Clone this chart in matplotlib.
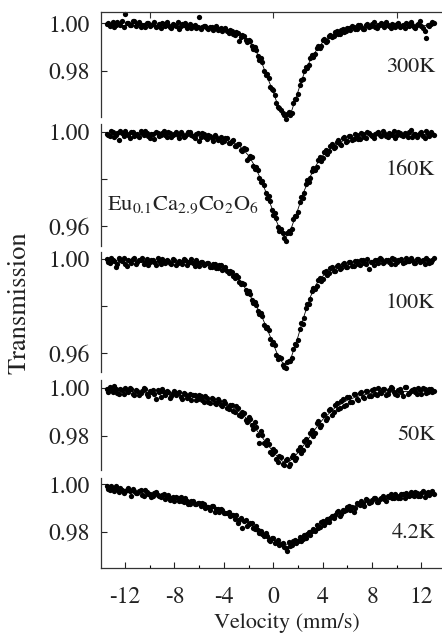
import matplotlib
matplotlib.use("Agg")
import matplotlib.pyplot as plt

plt.rcParams['font.family'] = ['STIXGeneral', 'Liberation Serif', 'DejaVu Serif']
plt.rcParams['mathtext.fontset'] = 'stix'
plt.rcParams['axes.unicode_minus'] = False

# velocity channels (mm/s), two interleaved halves of the folded spectrum
velocity_a = [
    -13.5, -13.25, -13.0, -12.75, -12.5, -12.25, -12.0, -11.75, -11.5, -11.25,
    -11.0, -10.75, -10.5, -10.25, -10.0, -9.75, -9.5, -9.25, -9.0, -8.75,
    -8.5, -8.25, -8.0, -7.75, -7.5, -7.25, -7.0, -6.75, -6.5, -6.25,
    -6.0, -5.75, -5.5, -5.25, -5.0, -4.75, -4.5, -4.25, -4.0, -3.75,
    -3.5, -3.25, -3.0, -2.75, -2.5, -2.25, -2.0, -1.75, -1.5, -1.25,
    -1.0, -0.75, -0.5, -0.25, 0.0, 0.25, 0.5, 0.75, 1.0, 1.25,
    1.5, 1.75, 2.0, 2.25, 2.5, 2.75, 3.0, 3.25, 3.5, 3.75,
    4.0, 4.25, 4.5, 4.75, 5.0, 5.25, 5.5, 5.75, 6.0, 6.25,
    6.5, 6.75, 7.0, 7.25, 7.5, 7.75, 8.0, 8.25, 8.5, 8.75,
    9.0, 9.25, 9.5, 9.75, 10.0, 10.25, 10.5, 10.75, 11.0, 11.25,
    11.5, 11.75, 12.0, 12.25, 12.5, 12.75, 13.0]
velocity_b = [
    -13.375, -13.125, -12.875, -12.625, -12.375, -12.125, -11.875, -11.625, -11.375, -11.125,
    -10.875, -10.625, -10.375, -10.125, -9.875, -9.625, -9.375, -9.125, -8.875, -8.625,
    -8.375, -8.125, -7.875, -7.625, -7.375, -7.125, -6.875, -6.625, -6.375, -6.125,
    -5.875, -5.625, -5.375, -5.125, -4.875, -4.625, -4.375, -4.125, -3.875, -3.625,
    -3.375, -3.125, -2.875, -2.625, -2.375, -2.125, -1.875, -1.625, -1.375, -1.125,
    -0.875, -0.625, -0.375, -0.125, 0.125, 0.375, 0.625, 0.875, 1.125, 1.375,
    1.625, 1.875, 2.125, 2.375, 2.625, 2.875, 3.125, 3.375, 3.625, 3.875,
    4.125, 4.375, 4.625, 4.875, 5.125, 5.375, 5.625, 5.875, 6.125, 6.375,
    6.625, 6.875, 7.125, 7.375, 7.625, 7.875, 8.125, 8.375, 8.625, 8.875,
    9.125, 9.375, 9.625, 9.875, 10.125, 10.375, 10.625, 10.875, 11.125, 11.375,
    11.625, 11.875, 12.125, 12.375, 12.625, 12.875]

# measured transmission
t300_a = [
    0.9996, 0.9989, 1.0004, 0.9993, 0.9999, 1.0008, 1.0040, 1.0002, 0.9995, 1.0011,
    0.9997, 0.9986, 0.9994, 1.0003, 0.9988, 0.9999, 0.9984, 0.9996, 1.0001, 0.9990,
    0.9993, 0.9981, 0.9995, 1.0004, 0.9987, 0.9993, 0.9982, 0.9998, 0.9989, 0.9979,
    1.0026, 0.9983, 0.9987, 0.9976, 0.9986, 0.9981, 0.9970, 0.9982, 0.9975, 0.9966,
    0.9972, 0.9957, 0.9963, 0.9925, 0.9950, 0.9928, 0.9931, 0.9903, 0.9899, 0.9861,
    0.9852, 0.9798, 0.9786, 0.9731, 0.9718, 0.9663, 0.9645, 0.9621, 0.9598, 0.9625,
    0.9622, 0.9681, 0.9704, 0.9760, 0.9798, 0.9811, 0.9852, 0.9860, 0.9895, 0.9898,
    0.9928, 0.9922, 0.9947, 0.9941, 0.9963, 0.9955, 0.9973, 0.9964, 0.9982, 0.9971,
    0.9986, 0.9975, 0.9991, 0.9978, 0.9993, 0.9983, 0.9997, 0.9985, 0.9992, 1.0002,
    0.9986, 0.9995, 0.9979, 0.9991, 0.9998, 0.9984, 0.9993, 1.0001, 0.9987, 0.9995,
    0.9982, 0.9999, 0.9989, 0.9968, 0.9991, 0.9997, 1.0003]
t300_b = [
    1.0001, 0.9993, 0.9986, 1.0007, 0.9995, 0.9984, 1.0003, 0.9991, 1.0009, 0.9987,
    1.0004, 0.9992, 0.9983, 1.0000, 0.9994, 1.0006, 0.9989, 0.9980, 0.9997, 1.0005,
    0.9986, 0.9998, 0.9990, 0.9978, 0.9996, 1.0002, 0.9988, 0.9981, 0.9994, 0.9986,
    0.9977, 0.9990, 0.9979, 0.9984, 0.9972, 0.9987, 0.9978, 0.9968, 0.9980, 0.9961,
    0.9969, 0.9950, 0.9958, 0.9941, 0.9946, 0.9922, 0.9924, 0.9892, 0.9888, 0.9847,
    0.9835, 0.9784, 0.9769, 0.9721, 0.9699, 0.9648, 0.9633, 0.9612, 0.9617, 0.9613,
    0.9662, 0.9683, 0.9741, 0.9764, 0.9814, 0.9826, 0.9866, 0.9871, 0.9903, 0.9905,
    0.9932, 0.9926, 0.9951, 0.9948, 0.9967, 0.9956, 0.9977, 0.9969, 0.9981, 0.9988,
    0.9978, 0.9994, 0.9986, 0.9976, 0.9996, 0.9989, 1.0004, 0.9982, 0.9993, 0.9999,
    1.0006, 0.9988, 0.9996, 0.9983, 1.0003, 0.9990, 0.9979, 0.9998, 1.0005, 0.9986,
    0.9994, 1.0008, 0.9981, 0.9940, 0.9989, 1.0004]
t160_a = [
    0.9994, 0.9983, 1.0001, 0.9990, 0.9968, 0.9996, 1.0004, 0.9987, 0.9999, 0.9982,
    0.9993, 1.0005, 0.9986, 0.9997, 0.9976, 0.9992, 1.0002, 0.9985, 0.9995, 0.9989,
    1.0003, 0.9981, 0.9994, 0.9987, 0.9999, 0.9979, 0.9991, 1.0001, 0.9984, 0.9993,
    0.9962, 0.9997, 0.9980, 0.9990, 0.9974, 0.9988, 0.9967, 0.9981, 0.9964, 0.9975,
    0.9952, 0.9966, 0.9940, 0.9949, 0.9918, 0.9928, 0.9889, 0.9896, 0.9843, 0.9837,
    0.9786, 0.9775, 0.9718, 0.9706, 0.9647, 0.9633, 0.9578, 0.9570, 0.9538, 0.9577,
    0.9586, 0.9645, 0.9661, 0.9724, 0.9739, 0.9795, 0.9804, 0.9849, 0.9851, 0.9894,
    0.9889, 0.9925, 0.9918, 0.9949, 0.9936, 0.9966, 0.9947, 0.9978, 0.9963, 0.9985,
    0.9970, 0.9988, 0.9973, 0.9993, 0.9976, 0.9996, 0.9982, 0.9991, 1.0002, 0.9984,
    0.9995, 0.9979, 0.9992, 1.0004, 0.9986, 0.9997, 0.9983, 0.9993, 1.0001, 0.9981,
    0.9994, 0.9988, 0.9999, 0.9977, 0.9992, 1.0003, 0.9986]
t160_b = [
    0.9987, 1.0004, 0.9979, 0.9995, 1.0006, 0.9984, 0.9992, 0.9977, 1.0003, 0.9990,
    0.9981, 0.9998, 1.0005, 0.9983, 0.9994, 0.9973, 0.9997, 0.9988, 1.0004, 0.9979,
    0.9996, 0.9986, 1.0002, 0.9975, 0.9993, 0.9983, 1.0003, 0.9989, 0.9977, 0.9996,
    0.9979, 0.9993, 0.9972, 0.9985, 0.9962, 0.9981, 0.9970, 0.9958, 0.9976, 0.9955,
    0.9962, 0.9943, 0.9951, 0.9925, 0.9931, 0.9880, 0.9900, 0.9857, 0.9853, 0.9805,
    0.9790, 0.9741, 0.9726, 0.9668, 0.9654, 0.9598, 0.9586, 0.9547, 0.9571, 0.9569,
    0.9628, 0.9641, 0.9703, 0.9719, 0.9779, 0.9788, 0.9834, 0.9838, 0.9881, 0.9879,
    0.9915, 0.9909, 0.9941, 0.9931, 0.9960, 0.9949, 0.9975, 0.9958, 0.9983, 0.9966,
    0.9991, 0.9972, 0.9996, 0.9980, 1.0003, 0.9986, 0.9975, 0.9997, 0.9988, 1.0005,
    0.9983, 0.9998, 0.9990, 0.9976, 1.0002, 0.9987, 0.9995, 0.9980, 1.0010, 0.9991,
    0.9979, 0.9996, 0.9985, 1.0004, 0.9982, 0.9993]
t100_a = [
    1.0002, 0.9984, 0.9997, 0.9968, 1.0006, 0.9991, 0.9979, 0.9998, 0.9986, 1.0004,
    0.9990, 0.9997, 0.9981, 1.0001, 0.9987, 0.9995, 0.9976, 0.9993, 1.0003, 0.9985,
    0.9992, 0.9979, 0.9998, 0.9986, 0.9990, 1.0002, 0.9977, 0.9989, 0.9984, 0.9995,
    0.9973, 0.9987, 0.9978, 0.9985, 0.9968, 0.9980, 0.9961, 0.9975, 0.9957, 0.9949,
    0.9951, 0.9929, 0.9932, 0.9903, 0.9899, 0.9868, 0.9863, 0.9826, 0.9818, 0.9781,
    0.9773, 0.9722, 0.9711, 0.9660, 0.9648, 0.9593, 0.9584, 0.9549, 0.9538, 0.9568,
    0.9580, 0.9639, 0.9657, 0.9728, 0.9749, 0.9811, 0.9832, 0.9878, 0.9886, 0.9920,
    0.9917, 0.9949, 0.9940, 0.9965, 0.9952, 0.9976, 0.9961, 0.9983, 0.9968, 0.9989,
    0.9972, 0.9992, 0.9976, 0.9995, 0.9981, 0.9960, 0.9990, 0.9998, 0.9983, 1.0001,
    0.9987, 0.9996, 0.9980, 1.0002, 0.9989, 0.9997, 0.9985, 1.0004, 0.9991, 0.9998,
    0.9986, 1.0003, 0.9993, 0.9981, 0.9999, 0.9988, 1.0005]
t100_b = [
    0.9988, 1.0005, 0.9992, 0.9978, 0.9999, 1.0007, 0.9972, 0.9994, 1.0003, 0.9980,
    0.9996, 1.0004, 0.9989, 0.9974, 0.9998, 0.9987, 1.0005, 0.9982, 0.9991, 0.9999,
    0.9984, 1.0003, 0.9975, 0.9993, 0.9981, 0.9997, 0.9988, 1.0001, 0.9972, 0.9986,
    0.9990, 0.9974, 0.9984, 0.9967, 0.9981, 0.9963, 0.9976, 0.9953, 0.9965, 0.9940,
    0.9945, 0.9922, 0.9924, 0.9893, 0.9894, 0.9857, 0.9852, 0.9813, 0.9807, 0.9766,
    0.9759, 0.9707, 0.9697, 0.9641, 0.9635, 0.9577, 0.9581, 0.9540, 0.9562, 0.9566,
    0.9618, 0.9635, 0.9705, 0.9725, 0.9792, 0.9808, 0.9866, 0.9873, 0.9912, 0.9909,
    0.9944, 0.9933, 0.9962, 0.9948, 0.9973, 0.9957, 0.9980, 0.9966, 0.9987, 0.9971,
    0.9994, 0.9979, 0.9997, 0.9983, 1.0002, 0.9988, 0.9975, 0.9996, 1.0004, 0.9985,
    0.9999, 0.9990, 1.0005, 0.9982, 0.9996, 1.0001, 0.9988, 0.9994, 1.0006, 0.9984,
    1.0002, 0.9990, 0.9997, 1.0007, 0.9985, 0.9999]
t50_a = [
    0.9996, 1.0006, 0.9985, 0.9999, 0.9978, 0.9994, 1.0003, 0.9983, 0.9997, 0.9971,
    0.9990, 0.9980, 1.0002, 0.9976, 0.9989, 0.9993, 0.9955, 0.9986, 0.9996, 0.9972,
    0.9984, 0.9966, 0.9989, 0.9979, 0.9963, 0.9980, 0.9958, 0.9977, 0.9970, 0.9952,
    0.9973, 0.9949, 0.9966, 0.9942, 0.9961, 0.9936, 0.9955, 0.9929, 0.9946, 0.9917,
    0.9931, 0.9906, 0.9925, 0.9889, 0.9902, 0.9866, 0.9878, 0.9843, 0.9856, 0.9802,
    0.9818, 0.9770, 0.9782, 0.9731, 0.9744, 0.9702, 0.9716, 0.9679, 0.9698, 0.9672,
    0.9712, 0.9699, 0.9741, 0.9727, 0.9776, 0.9761, 0.9813, 0.9798, 0.9852, 0.9836,
    0.9886, 0.9867, 0.9910, 0.9889, 0.9931, 0.9913, 0.9948, 0.9926, 0.9962, 0.9944,
    0.9974, 0.9955, 0.9981, 0.9963, 0.9989, 0.9968, 0.9993, 0.9976, 1.0001, 0.9982,
    0.9995, 0.9977, 1.0004, 0.9986, 0.9973, 0.9998, 0.9968, 1.0006, 0.9979, 0.9993,
    0.9985, 1.0002, 0.9976, 0.9995, 0.9983, 0.9999, 0.9988]
t50_b = [
    0.9983, 0.9999, 1.0008, 0.9981, 0.9995, 0.9974, 0.9991, 1.0001, 0.9978, 0.9994,
    0.9971, 0.9990, 0.9997, 0.9968, 0.9986, 0.9975, 0.9992, 0.9964, 0.9983, 0.9988,
    0.9961, 0.9982, 0.9970, 0.9985, 0.9956, 0.9975, 0.9962, 0.9950, 0.9972, 0.9955,
    0.9968, 0.9944, 0.9960, 0.9938, 0.9955, 0.9932, 0.9948, 0.9924, 0.9939, 0.9911,
    0.9928, 0.9900, 0.9916, 0.9881, 0.9894, 0.9857, 0.9869, 0.9829, 0.9838, 0.9770,
    0.9804, 0.9759, 0.9766, 0.9722, 0.9735, 0.9690, 0.9708, 0.9676, 0.9701, 0.9680,
    0.9719, 0.9707, 0.9751, 0.9739, 0.9788, 0.9772, 0.9825, 0.9810, 0.9861, 0.9845,
    0.9891, 0.9873, 0.9914, 0.9898, 0.9936, 0.9917, 0.9953, 0.9929, 0.9965, 0.9944,
    0.9978, 0.9952, 0.9984, 0.9960, 0.9990, 0.9966, 0.9997, 0.9971, 0.9986, 0.9996,
    0.9972, 0.9991, 1.0003, 0.9978, 0.9994, 0.9983, 1.0005, 0.9976, 0.9989, 0.9997,
    0.9974, 0.9992, 1.0001, 0.9980, 0.9996, 0.9984]
t4_a = [
    0.9993, 0.9977, 0.9985, 0.9992, 0.9969, 0.9978, 0.9971, 0.9983, 0.9952, 0.9974,
    0.9965, 0.9975, 0.9953, 0.9966, 0.9960, 0.9950, 0.9969, 0.9950, 0.9957, 0.9939,
    0.9954, 0.9943, 0.9930, 0.9944, 0.9947, 0.9927, 0.9932, 0.9917, 0.9931, 0.9916,
    0.9920, 0.9923, 0.9902, 0.9905, 0.9908, 0.9886, 0.9897, 0.9898, 0.9879, 0.9879,
    0.9865, 0.9873, 0.9873, 0.9852, 0.9815, 0.9849, 0.9833, 0.9839, 0.9812, 0.9810,
    0.9806, 0.9782, 0.9785, 0.9761, 0.9775, 0.9756, 0.9743, 0.9755, 0.9733, 0.9758,
    0.9746, 0.9767, 0.9761, 0.9763, 0.9787, 0.9791, 0.9787, 0.9813, 0.9828, 0.9820,
    0.9844, 0.9840, 0.9843, 0.9867, 0.9871, 0.9888, 0.9877, 0.9889, 0.9906, 0.9891,
    0.9885, 0.9923, 0.9912, 0.9921, 0.9937, 0.9920, 0.9935, 0.9941, 0.9926, 0.9944,
    0.9938, 0.9951, 0.9959, 0.9941, 0.9952, 0.9941, 0.9959, 0.9965, 0.9951, 0.9957,
    0.9967, 0.9953, 0.9964, 0.9949, 0.9969, 0.9964, 0.9960]
t4_b = [
    0.9979, 0.9993, 0.9972, 0.9981, 0.9984, 0.9963, 0.9978, 0.9971, 0.9980, 0.9962,
    0.9971, 0.9957, 0.9975, 0.9958, 0.9949, 0.9963, 0.9955, 0.9945, 0.9959, 0.9946,
    0.9934, 0.9947, 0.9949, 0.9932, 0.9932, 0.9941, 0.9919, 0.9930, 0.9917, 0.9921,
    0.9908, 0.9919, 0.9906, 0.9892, 0.9911, 0.9898, 0.9883, 0.9891, 0.9878, 0.9885,
    0.9872, 0.9855, 0.9838, 0.9860, 0.9844, 0.9824, 0.9837, 0.9817, 0.9823, 0.9796,
    0.9791, 0.9795, 0.9766, 0.9775, 0.9755, 0.9768, 0.9749, 0.9735, 0.9720, 0.9741,
    0.9762, 0.9753, 0.9780, 0.9772, 0.9774, 0.9799, 0.9805, 0.9802, 0.9818, 0.9840,
    0.9830, 0.9855, 0.9859, 0.9859, 0.9883, 0.9869, 0.9892, 0.9891, 0.9909, 0.9904,
    0.9902, 0.9918, 0.9931, 0.9911, 0.9933, 0.9928, 0.9942, 0.9928, 0.9939, 0.9953,
    0.9932, 0.9948, 0.9942, 0.9959, 0.9942, 0.9958, 0.9941, 0.9957, 0.9966, 0.9951,
    0.9964, 0.9950, 0.9972, 0.9962, 0.9955, 0.9971]

# fitted curves
fit_velocity = [-13.5, -12, -10, -8, -6, -5, -4, -3, -2.5, -2, -1.5, -1, -0.5, 0,
                0.25, 0.5, 0.75, 1, 1.25, 1.5, 2, 2.5, 3, 3.5, 4, 5, 6, 7, 8,
                10, 12, 13.0]
fit300 = [0.9992, 0.9991, 0.9990, 0.9988, 0.9984, 0.9979, 0.9972, 0.9958, 0.9945,
          0.9925, 0.9893, 0.9843, 0.9775, 0.9710, 0.9672, 0.9638, 0.9614, 0.9605,
          0.9612, 0.9633, 0.9712, 0.9790, 0.9845, 0.9887, 0.9920, 0.9958, 0.9975,
          0.9983, 0.9987, 0.9990, 0.9991, 0.9992]
fit160 = [0.9991, 0.9991, 0.9990, 0.9988, 0.9984, 0.9979, 0.9970, 0.9950, 0.9930,
          0.9900, 0.9856, 0.9798, 0.9732, 0.9660, 0.9622, 0.9590, 0.9564, 0.9555,
          0.9565, 0.9598, 0.9672, 0.9750, 0.9812, 0.9862, 0.9900, 0.9948, 0.9971,
          0.9981, 0.9986, 0.9989, 0.9990, 0.9991]
fit100 = [0.9994, 0.9993, 0.9991, 0.9988, 0.9982, 0.9975, 0.9962, 0.9925, 0.9895,
          0.9855, 0.9812, 0.9765, 0.9703, 0.9640, 0.9606, 0.9578, 0.9560, 0.9553,
          0.9562, 0.9590, 0.9670, 0.9760, 0.9840, 0.9895, 0.9928, 0.9962, 0.9977,
          0.9984, 0.9988, 0.9991, 0.9993, 0.9994]
fit50 = [0.9993, 0.9988, 0.9982, 0.9974, 0.9960, 0.9950, 0.9935, 0.9910, 0.9890,
         0.9864, 0.9833, 0.9800, 0.9765, 0.9732, 0.9716, 0.9702, 0.9692, 0.9687,
         0.9690, 0.9700, 0.9728, 0.9762, 0.9798, 0.9835, 0.9868, 0.9918, 0.9950,
         0.9969, 0.9979, 0.9986, 0.9988, 0.9989]
fit4 = [0.9985, 0.9975, 0.9960, 0.9942, 0.9917, 0.9902, 0.9884, 0.9862, 0.9849,
        0.9835, 0.9818, 0.9800, 0.9782, 0.9767, 0.9760, 0.9754, 0.9750, 0.9748,
        0.9749, 0.9752, 0.9764, 0.9780, 0.9798, 0.9816, 0.9835, 0.9870, 0.9898,
        0.9918, 0.9932, 0.9950, 0.9960, 0.9963]

temps = ['300K', '160K', '100K', '50K', '4.2K']
data_a = [t300_a, t160_a, t100_a, t50_a, t4_a]
data_b = [t300_b, t160_b, t100_b, t50_b, t4_b]
fits = [fit300, fit160, fit100, fit50, fit4]
ylims = [(0.9605, 1.0049), (0.9515, 1.0035), (0.9520, 1.0031),
         (0.9655, 1.0035), (0.9647, 1.0027)]
yticks = [[0.98, 1.00], [0.96, 0.98, 1.00], [0.96, 0.98, 1.00],
          [0.98, 1.00], [0.98, 1.00]]
yticklabels = [['0.98', '1.00'], ['0.96', '', '1.00'], ['0.96', '', '1.00'],
               ['0.98', '1.00'], ['0.98', '1.00']]

# panel extents in pixels (top, bottom) and label baselines
W, H = 442, 635
panel_px = [(11.7, 117), (124, 246), (252, 372), (380, 470), (478, 568.3)]
label_y = [72, 175, 308, 440, 538]
ink = '#222222'

fig = plt.figure(figsize=(W / 100, H / 100), dpi=100)

for k in range(5):
    top, bot = panel_px[k]
    ax = fig.add_axes([101 / W, 1 - bot / H, (W - 101) / W, (bot - top) / H])
    ax.plot(fit_velocity, fits[k], color='black', lw=0.6)
    ax.plot(velocity_a, data_a[k], 'o', ms=3.8, color='black', mec='none', clip_on=False)
    ax.plot(velocity_b, data_b[k], 'o', ms=3.8, color='black', mec='none', clip_on=False)
    ax.set_xlim(-13.95, 13.66)
    ax.set_ylim(*ylims[k])

    ax.spines['right'].set_visible(False)
    ax.spines['top'].set_visible(k == 0)
    ax.spines['bottom'].set_visible(k == 4)
    for s in ax.spines.values():
        s.set_color('#333333')
        s.set_linewidth(0.9)

    ax.set_yticks(yticks[k])
    ax.set_yticklabels(yticklabels[k])
    ax.tick_params(axis='y', direction='in', length=4, width=0.8, pad=8,
                   labelsize=17, colors=ink, right=False)

    if k == 0:
        ax.set_xticks([-10, 0, 10])
        ax.tick_params(axis='x', top=True, bottom=False, labeltop=False,
                       labelbottom=False, direction='in', length=4, width=0.8,
                       colors='#333333')
    elif k == 4:
        ax.set_xticks([-12, -8, -4, 0, 4, 8, 12])
        ax.set_xticks([-10, -6, -2, 2, 6, 10], minor=True)
        ax.tick_params(axis='x', which='major', direction='in', length=4,
                       width=0.8, pad=13, labelsize=17, colors=ink, top=False)
        ax.tick_params(axis='x', which='minor', direction='in', length=2.5,
                       width=0.8, top=False)
    else:
        ax.set_xticks([])

    fig.text(435 / W, 1 - label_y[k] / H, temps[k], ha='right', va='baseline',
             fontsize=16, color=ink)

fig.text(107 / W, 1 - 210 / H, r'Eu$_{0.1}$Ca$_{2.9}$Co$_{2}$O$_{6}$',
         ha='left', va='baseline', fontsize=16, color=ink)
fig.text(19 / W, 1 - 303 / H, 'Transmission', rotation=90, ha='center',
         va='center', fontsize=19, color=ink)
fig.text(287 / W, 1 - 628 / H, 'Velocity (mm/s)', ha='center', va='baseline',
         fontsize=16, color=ink)

fig.savefig('out.png', dpi=100)
